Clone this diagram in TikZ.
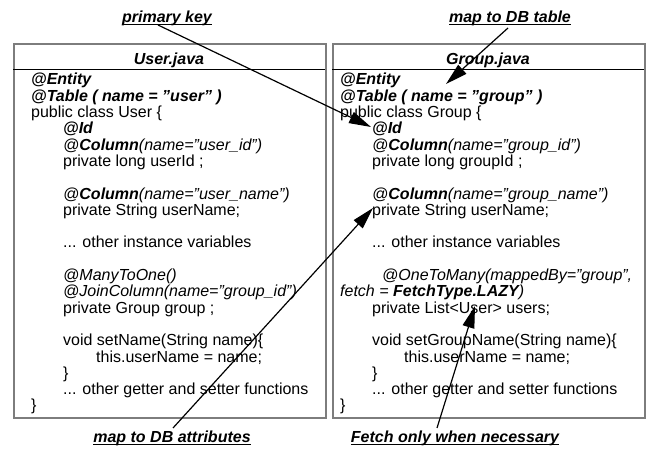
\documentclass[tikz,border=0pt]{standalone}
\usepackage{fontspec}
\setmainfont{Liberation Sans}
\usetikzlibrary{arrows.meta}
\definecolor{boxgray}{RGB}{125,125,125}
\newcommand\bix[1]{{\bfseries\itshape #1}}
\newcommand\itx[1]{{\itshape #1}}
\newcommand\ulx[1]{\setbox0\hbox{#1}\rlap{\rule[-2.8pt]{\wd0}{1.2pt}}\box0}
\begin{document}
\begin{tikzpicture}[x=1pt,y=-1pt,
  code/.style={anchor=base west, inner sep=0pt, font=\fontsize{16}{16}\selectfont},
  title/.style={anchor=base, inner sep=0pt, font=\fontsize{16}{16}\selectfont\bfseries\itshape},
  note/.style={anchor=base, inner sep=0pt, font=\fontsize{16}{16}\selectfont\bfseries\itshape},
  filebox/.style={draw=boxgray, line width=2.3pt},
  pointer/.style={line width=1.2pt, -{Triangle[length=22pt,width=12pt]}}]
\useasboundingbox (0,0) rectangle (649,454);
% boxes
\node[filebox, minimum width=312pt, minimum height=374pt, anchor=north west, inner sep=0pt] (ubox) at (13,43) {};
\node[filebox, minimum width=312pt, minimum height=374pt, anchor=north west, inner sep=0pt] (gbox) at (332,43) {};
\coordinate (ul) at (13,69);
\coordinate (ur) at (325,69);
\coordinate (gl) at (332,69);
\coordinate (gr) at (644,69);
\draw[line width=0.9pt] (ul) -- (ur);
\draw[line width=0.9pt] (gl) -- (gr);
\node[title] (utitle) at (169,64.5) {User.java};
\node[title] (gtitle) at (488,64.5) {Group.java};
% User.java
\node[code] (u1) at (31,{85+16.3*0}) {\bix{@Entity}};
\node[code] (u2) at (31,{85+16.3*1}) {\bix{@Table ( name = ”user” )}};
\node[code] (u3) at (31,{85+16.3*2}) {public class User \{};
\node[code] (u4) at (63,{85+16.3*3}) {\bix{@Id}};
\node[code] (u5) at (63,{85+16.3*4}) {\itx{@}\bix{Column}\itx{(name=”user\_id”)}};
\node[code] (u6) at (63,{85+16.3*5}) {private long userId ;};
\node[code] (u8) at (63,{85+16.3*7}) {\itx{@}\bix{Column}\itx{(name=”user\_name”)}};
\node[code] (u9) at (63,{85+16.3*8}) {private String userName;};
\node[code] (u11) at (63,{85+16.3*10}) {... other instance variables};
\node[code] (u13) at (63,{85+16.3*12}) {\itx{@ManyToOne()}};
\node[code] (u14) at (63,{85+16.3*13}) {\itx{@JoinColumn(name=”group\_id”)}};
\node[code] (u15) at (63,{85+16.3*14}) {private Group group ;};
\node[code] (u17) at (63,{85+16.3*16}) {void setName(String name)\{};
\node[code] (u18) at (96,{85+16.3*17}) {this.userName = name;};
\node[code] (u19) at (63,{85+16.3*18}) {\}};
\node[code] (u20) at (63,{85+16.3*19}) {... other getter and setter functions};
\node[code] (u21) at (31,{85+16.3*20}) {\}};
% Group.java
\node[code] (g1) at (340,{85+16.3*0}) {\bix{@Entity}};
\node[code] (g2) at (340,{85+16.3*1}) {\bix{@Table ( name = ”group” )}};
\node[code] (g3) at (340,{85+16.3*2}) {public class Group \{};
\node[code] (g4) at (372,{85+16.3*3}) {\bix{@Id}};
\node[code] (g5) at (372,{85+16.3*4}) {\itx{@}\bix{Column}\itx{(name=”group\_id”)}};
\node[code] (g6) at (372,{85+16.3*5}) {private long groupId ;};
\node[code] (g8) at (372,{85+16.3*7}) {\itx{@}\bix{Column}\itx{(name=”group\_name”)}};
\node[code] (g9) at (372,{85+16.3*8}) {private String userName;};
\node[code] (g11) at (372,{85+16.3*10}) {... other instance variables};
\node[code] (g13) at (382,{85+16.3*12}) {\itx{@OneToMany(mappedBy=”group”,}};
\node[code] (g14) at (340,{85+16.3*13}) {\itx{fetch = }\bix{FetchType.LAZY}\itx{)}};
\node[code] (g15) at (372,{85+16.3*14}) {private List<User> users;};
\node[code] (g17) at (372,{85+16.3*16}) {void setGroupName(String name)\{};
\node[code] (g18) at (404,{85+16.3*17}) {this.userName = name;};
\node[code] (g19) at (372,{85+16.3*18}) {\}};
\node[code] (g20) at (372,{85+16.3*19}) {... other getter and setter functions};
\node[code] (g21) at (340,{85+16.3*20}) {\}};
% notes
\node[note] (pk) at (167,22.5) {\ulx{primary key}};
\node[note] (mt) at (510,22.5) {\ulx{map to DB table}};
\node[note] (ma) at (172,442.5) {\ulx{map to DB attributes}};
\node[note] (fn) at (455,442.5) {\ulx{Fetch only when necessary}};
\coordinate (pkfrom) at (158,25);
\coordinate (pkto) at (371,127);
\coordinate (mtfrom) at (508,28);
\coordinate (mtto) at (446,84);
\coordinate (mafrom) at (173,428);
\coordinate (mato) at (373,208);
\coordinate (fnfrom) at (437,428);
\coordinate (fnto) at (475,306);
\draw[pointer] (pkfrom) -- (pkto);
\draw[pointer] (mtfrom) -- (mtto);
\draw[pointer] (mafrom) -- (mato);
\draw[pointer] (fnfrom) -- (fnto);
\end{tikzpicture}
\end{document}
